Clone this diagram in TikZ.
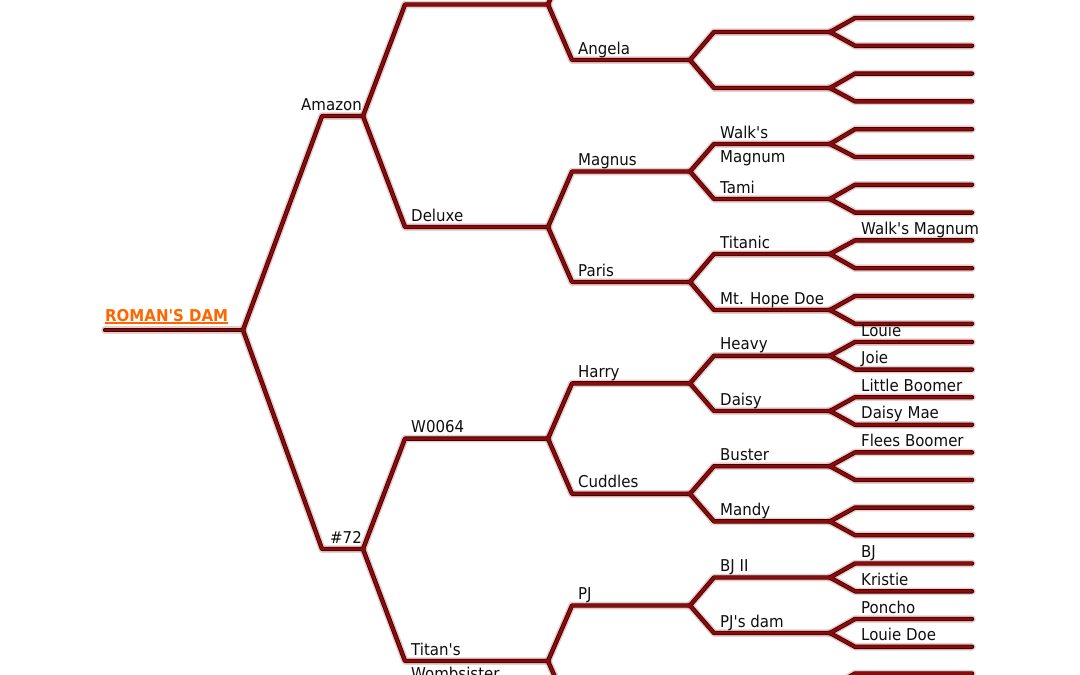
\documentclass[tikz,border=0pt]{standalone}
\usepackage{fontspec}
\setmainfont{DejaVu Sans}[Ligatures=TeXOff, FakeStretch=0.92]
\definecolor{linecore}{RGB}{140,10,10}
\definecolor{lineshadow}{RGB}{55,0,0}
\definecolor{linehalo}{RGB}{215,165,165}
\definecolor{damorange}{RGB}{255,102,0}
\definecolor{labeltext}{RGB}{15,15,15}
\newcommand\pers[4]{\coordinate (#1-s) at (#2,#4); \coordinate (#1-e) at (#3,#4);}
\newcommand\treepaths[1]{%
  \draw[#1] (rd-s) -- (rd-e);
  \foreach \p/\c in {rd/am, rd/n72, am/c0, am/dl, n72/w, n72/tw,
      c0/d0, c0/ang, dl/mag, dl/par, w/har, w/cud, tw/pj, tw/d7,
      ang/e1, ang/e2, mag/wm, mag/tam, par/tit, par/mhd, har/hea, har/dai,
      cud/bus, cud/man, pj/bj2, pj/pjd, d7/e13,
      e1/f0, e1/f1, e2/f2, e2/f3, wm/f4, wm/f5, tam/f6, tam/f7,
      tit/f8, tit/f9, mhd/f10, mhd/f11, hea/f12, hea/f13, dai/f14, dai/f15,
      bus/f16, bus/f17, man/f18, man/f19, bj2/f20, bj2/f21, pjd/f22, pjd/f23,
      e13/f24}
    {\draw[#1] (\p-e) -- (\c-s) -- (\c-e);}
}
\tikzset{
  halo/.style={line width=7.5pt, draw=linehalo, draw opacity=0.55, line cap=round, line join=round},
  shade/.style={line width=4.4pt, draw=lineshadow, line cap=round, line join=round},
  core/.style={line width=2.7pt, draw=linecore, line cap=round, line join=round},
  lblbase/.style={font=\fontsize{16.3}{24}\selectfont, text=labeltext, inner sep=0pt},
  lbl/.style={lblbase, anchor=base west, xshift=6pt, yshift=6pt},
  lblr/.style={lblbase, anchor=base east, xshift=-1pt, yshift=6pt},
  lbltwo/.style={lblbase, align=left, anchor=base west, xshift=6pt, yshift=-18pt},
  damlbl/.style={font=\fontsize{16.3}{18}\selectfont\bfseries, text=damorange, inner sep=0pt, anchor=base west, yshift=9pt},
  damline/.style={draw=damorange, line width=1.6pt}
}
\begin{document}
\begin{tikzpicture}[x=1pt, y=-1pt]
\useasboundingbox (0,0) rectangle (1080,675);
\fill[white] (0,0) rectangle (1080,675);
\clip (0,0) rectangle (1080,675);
% column A
\pers{rd}{105}{243}{330}
% column B
\pers{am}{322}{363}{116}
\pers{n72}{322}{363}{549}
% column C
\pers{c0}{405}{548}{4.5}
\pers{dl}{405}{548}{227}
\pers{w}{405}{548}{438.6}
\pers{tw}{405}{548}{661}
% column D
\pers{d0}{572}{690}{-51}
\pers{ang}{572}{690}{60}
\pers{mag}{572}{690}{171.5}
\pers{par}{572}{690}{282}
\pers{har}{572}{690}{383.4}
\pers{cud}{572}{690}{493.8}
\pers{pj}{572}{690}{605.5}
\pers{d7}{572}{690}{716}
% column E
\pers{e1}{714}{830}{32}
\pers{e2}{714}{830}{88}
\pers{wm}{714}{830}{144}
\pers{tam}{714}{830}{199}
\pers{tit}{714}{830}{254}
\pers{mhd}{714}{830}{310}
\pers{hea}{714}{830}{355.8}
\pers{dai}{714}{830}{411}
\pers{bus}{714}{830}{466.2}
\pers{man}{714}{830}{521.4}
\pers{bj2}{714}{830}{577.5}
\pers{pjd}{714}{830}{633}
\pers{e13}{714}{830}{688}
% column F
\pers{f0}{855}{972}{18}
\pers{f1}{855}{972}{45.8}
\pers{f2}{855}{972}{73.6}
\pers{f3}{855}{972}{101.4}
\pers{f4}{855}{972}{129.2}
\pers{f5}{855}{972}{157}
\pers{f6}{855}{972}{184.8}
\pers{f7}{855}{972}{212.6}
\pers{f8}{855}{972}{240.4}
\pers{f9}{855}{972}{268.2}
\pers{f10}{855}{972}{296}
\pers{f11}{855}{972}{323.8}
\pers{f12}{855}{972}{342}
\pers{f13}{855}{972}{369.6}
\pers{f14}{855}{972}{397.2}
\pers{f15}{855}{972}{424.8}
\pers{f16}{855}{972}{452.4}
\pers{f17}{855}{972}{480}
\pers{f18}{855}{972}{507.6}
\pers{f19}{855}{972}{535.2}
\pers{f20}{855}{972}{563.5}
\pers{f21}{855}{972}{591.3}
\pers{f22}{855}{972}{619}
\pers{f23}{855}{972}{646.8}
\pers{f24}{855}{972}{673.5}
% lines in three passes
\treepaths{halo}
\begin{scope}[xshift=0.6pt, yshift=-0.8pt]
\treepaths{shade}
\end{scope}
\treepaths{core}
% labels
\node[damlbl] (l-rd) at (rd-s) {ROMAN'S DAM};
\draw[damline] ([yshift=-2.2pt]l-rd.base west) -- ([yshift=-2.2pt]l-rd.base east);
\node[lblr] (l-am) at (am-e) {Amazon};
\node[lblr] (l-n72) at (n72-e) {\#72};
\node[lbl] (l-dl) at (dl-s) {Deluxe};
\node[lbl] (l-w) at (w-s) {W0064};
\node[lbltwo] (l-tw) at (tw-s) {Titan's\\Wombsister};
\node[lbl] (l-ang) at (ang-s) {Angela};
\node[lbl] (l-mag) at (mag-s) {Magnus};
\node[lbl] (l-par) at (par-s) {Paris};
\node[lbl] (l-har) at (har-s) {Harry};
\node[lbl] (l-cud) at (cud-s) {Cuddles};
\node[lbl] (l-pj) at (pj-s) {PJ};
\node[lbltwo] (l-wm) at (wm-s) {Walk's\\Magnum};
\node[lbl] (l-tam) at (tam-s) {Tami};
\node[lbl] (l-tit) at (tit-s) {Titanic};
\node[lbl] (l-mhd) at (mhd-s) {Mt. Hope Doe};
\node[lbl] (l-hea) at (hea-s) {Heavy};
\node[lbl] (l-dai) at (dai-s) {Daisy};
\node[lbl] (l-bus) at (bus-s) {Buster};
\node[lbl] (l-man) at (man-s) {Mandy};
\node[lbl] (l-bj2) at (bj2-s) {BJ II};
\node[lbl] (l-pjd) at (pjd-s) {PJ's dam};
\node[lbl] (l-f8) at (f8-s) {Walk's Magnum};
\node[lbl] (l-f12) at (f12-s) {Louie};
\node[lbl] (l-f13) at (f13-s) {Joie};
\node[lbl] (l-f14) at (f14-s) {Little Boomer};
\node[lbl] (l-f15) at (f15-s) {Daisy Mae};
\node[lbl] (l-f16) at (f16-s) {Flees Boomer};
\node[lbl] (l-f20) at (f20-s) {BJ};
\node[lbl] (l-f21) at (f21-s) {Kristie};
\node[lbl] (l-f22) at (f22-s) {Poncho};
\node[lbl] (l-f23) at (f23-s) {Louie Doe};
\end{tikzpicture}
\end{document}
